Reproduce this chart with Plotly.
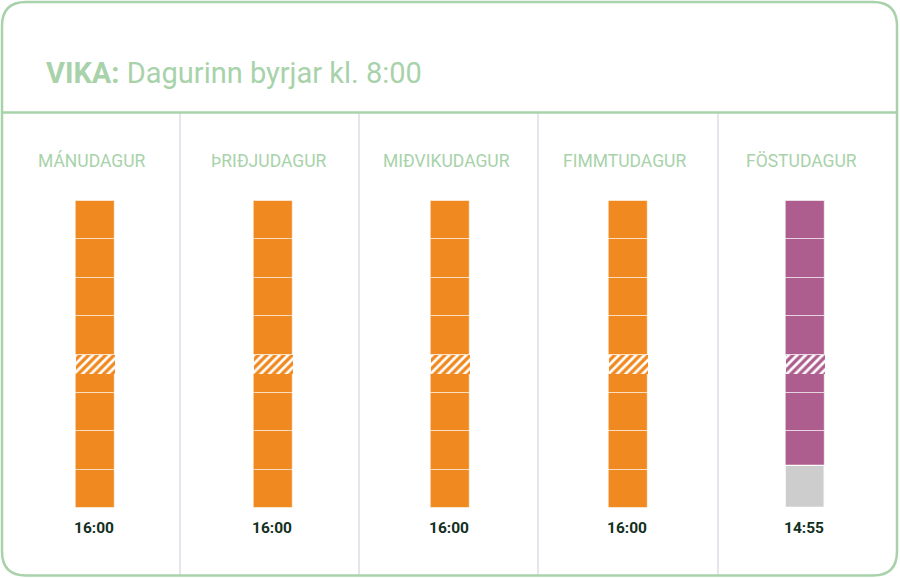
import plotly.graph_objects as go

# ---- data -------------------------------------------------------------
days = ["MÁNUDAGUR", "ÞRIÐJUDAGUR", "MIÐVIKUDAGUR", "FIMMTUDAGUR", "FÖSTUDAGUR"]
end_labels = ["16:00", "16:00", "16:00", "16:00", "14:55"]
end_hours = [16.0, 16.0, 16.0, 16.0, 14 + 55 / 60]
day_colors = ["#f0891f", "#f0891f", "#f0891f", "#f0891f", "#ae5e8e"]

day_start = 8.0
day_full_end = 16.0
block_edges = [8, 9, 10, 11, 12, 12.5, 13, 14, 15, 16]   # hour blocks
lunch = (12.0, 12.5)                                     # hatched break

title_bold = "VIKA:"
title_rest = " Dagurinn byrjar kl. 8:00"

# ---- geometry ---------------------------------------------------------
W, H = 900, 578
GREEN = "#a8d2aa"
TEXT_DARK = "#12301d"
top_px, px_per_hr = 201.0, 307.0 / 8.0
y_top = day_start - top_px / px_per_hr
y_bot = day_start + (H - top_px) / px_per_hr


def px(x):
    return x / W


def py(y):
    return 1 - y / H


# ---- build segments ---------------------------------------------------
work = dict(x=[], base=[], y=[], c=[])
off = dict(x=[], base=[], y=[])
breaks = []   # one entry per day: (x, base, length, colour)
for i, end in enumerate(end_hours):
    for a, b in zip(block_edges[:-1], block_edges[1:]):
        if a >= end:
            break
        b = min(b, end)
        if (a, b) == lunch:
            breaks.append((i, a, b - a, day_colors[i]))
        else:
            work["x"].append(i)
            work["base"].append(a)
            work["y"].append(b - a)
            work["c"].append(day_colors[i])
    if end < day_full_end:
        off["x"].append(i)
        off["base"].append(end)
        off["y"].append(day_full_end - end)

seg_line = dict(color="rgba(255,255,255,0.55)", width=1)
bar_w = 39 / 177.5

fig = go.Figure()
fig.add_trace(go.Bar(x=work["x"], y=work["y"], base=work["base"], width=bar_w,
                     marker=dict(color=work["c"], line=seg_line), hoverinfo="skip"))
for bx, bb, bl, bc in breaks:
    fig.add_trace(go.Bar(x=[bx], y=[bl], base=[bb], width=bar_w,
                         marker=dict(color=bc, line=dict(width=0),
                                     pattern=dict(shape="/", fgcolor="white",
                                                  bgcolor=bc, fgopacity=1,
                                                  size=6, solidity=0.45,
                                                  fillmode="replace")),
                         hoverinfo="skip"))
fig.add_trace(go.Bar(x=off["x"], y=off["y"], base=off["base"], width=bar_w,
                     marker=dict(color="#cdcdcd",
                                 line=dict(color="white", width=1.2)),
                     hoverinfo="skip"))

# ---- frame ------------------------------------------------------------
x0, x1, y0, y1, r = 2, 897, 2, 575.5, 24
path = (f"M {px(x0 + r)} {py(y0)} L {px(x1 - r)} {py(y0)} "
        f"Q {px(x1)} {py(y0)} {px(x1)} {py(y0 + r)} "
        f"L {px(x1)} {py(y1 - r)} Q {px(x1)} {py(y1)} {px(x1 - r)} {py(y1)} "
        f"L {px(x0 + r)} {py(y1)} Q {px(x0)} {py(y1)} {px(x0)} {py(y1 - r)} "
        f"L {px(x0)} {py(y0 + r)} Q {px(x0)} {py(y0)} {px(x0 + r)} {py(y0)} Z")
shapes = []
for sx in [180, 359, 538, 718]:
    shapes.append(dict(type="line", xref="paper", yref="paper",
                       x0=px(sx), x1=px(sx), y0=py(113), y1=py(575),
                       line=dict(color="#dcdee6", width=1.5), layer="below"))
shapes.append(dict(type="line", xref="paper", yref="paper",
                   x0=px(x0), x1=px(x1), y0=py(112.5), y1=py(112.5),
                   line=dict(color=GREEN, width=2.5)))
shapes.append(dict(type="path", xref="paper", yref="paper", path=path,
                   line=dict(color=GREEN, width=2.5), fillcolor="rgba(0,0,0,0)"))

annotations = [dict(xref="paper", yref="paper", x=px(44), y=py(73),
                    xanchor="left", yanchor="middle", showarrow=False,
                    text=f"<b>{title_bold}</b>{title_rest}",
                    font=dict(family="Roboto", size=29, color=GREEN))]
for i, (d, lab) in enumerate(zip(days, end_labels)):
    annotations.append(dict(x=i, y=py(161), xref="x", yref="paper", xshift=-4,
                            text=d, showarrow=False, yanchor="middle",
                            font=dict(family="Roboto", size=17.5, color=GREEN)))
    annotations.append(dict(x=i, y=py(528), xref="x", yref="paper", xshift=-1.5,
                            text=f"<b>{lab}</b>", showarrow=False, yanchor="middle",
                            font=dict(family="Roboto", size=15.5, color=TEXT_DARK)))

fig.update_layout(
    width=W, height=H, margin=dict(l=0, r=0, t=0, b=0),
    paper_bgcolor="white", plot_bgcolor="rgba(0,0,0,0)",
    barmode="overlay", bargap=0, showlegend=False,
    xaxis=dict(range=[-0.5, 4.5], domain=[6.75 / W, 894.25 / W], visible=False,
               fixedrange=True),
    yaxis=dict(range=[y_bot, y_top], visible=False, fixedrange=True),
    shapes=shapes, annotations=annotations,
)

fig.write_html("out.html")
